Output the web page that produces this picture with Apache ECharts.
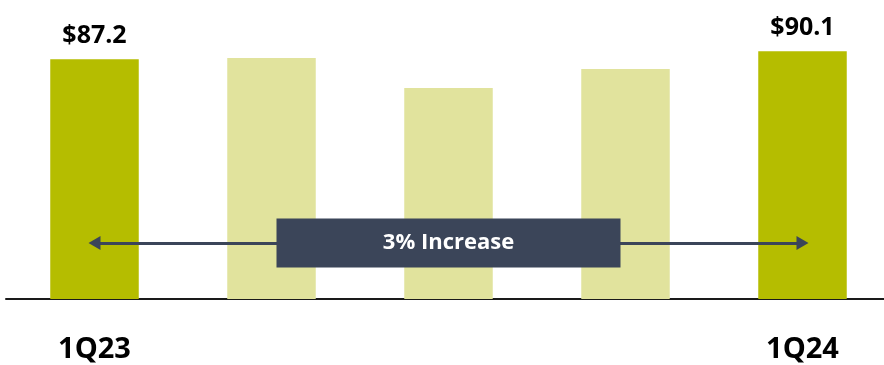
<!DOCTYPE html>
<html>
<head>
<meta charset="utf-8">
<script src="https://cdn.jsdelivr.net/npm/echarts@6/dist/echarts.min.js"></script>
<style>html,body{margin:0;padding:0;background:#fff;}#c{width:884px;height:365px;}</style>
</head>
<body>
<div id="c"></div>
<script>
const categories = ['1Q23', '2Q23', '3Q23', '4Q23', '1Q24'];
const values = [87.2, 87.6, 76.7, 83.6, 90.1];
const shownLabels = [true, false, false, false, true];
const annotationText = '3% Increase';
const arrowLevel = 20.4;

const DARK = '#B5BD00', LIGHT = '#E1E39D', NAVY = '#3B4559';
const FONT = '"Open Sans", "Noto Sans", sans-serif';

const chart = echarts.init(document.getElementById('c'), null, {renderer: 'canvas'});
chart.setOption({
  animation: false,
  grid: {left: 6, width: 885, top: 24, bottom: 66, containLabel: false, outerBoundsMode: 'none'},
  xAxis: {
    type: 'category',
    data: categories,
    axisLine: {show: true, lineStyle: {color: '#1a1a1a', width: 2}},
    axisTick: {show: false},
    axisLabel: {
      interval: (i) => shownLabels[i],
      margin: 36,
      color: '#000',
      fontFamily: FONT,
      fontWeight: 'bold',
      fontSize: 29
    }
  },
  yAxis: {type: 'value', min: 0, max: 100, show: false, splitLine: {show: false}},
  series: [
    {
      type: 'bar',
      barWidth: '50%',
      z: 2,
      data: values.map((v, i) => ({
        value: v,
        itemStyle: {color: shownLabels[i] ? DARK : LIGHT},
        label: {
          show: shownLabels[i],
          position: 'top',
          distance: 11,
          formatter: (p) => '$' + p.value.toFixed(1),
          color: '#000',
          fontFamily: FONT,
          fontWeight: 'bold',
          fontSize: 25
        }
      })),
      markLine: {
        silent: true,
        symbol: ['triangle', 'triangle'],
        symbolSize: [14, 12],
        lineStyle: {color: NAVY, width: 3, type: 'solid'},
        label: {show: false},
        data: [[
          {coord: [categories[0], arrowLevel]},
          {coord: [categories[categories.length - 1], arrowLevel]}
        ]]
      }
    },
    {
      type: 'scatter',
      z: 5,
      data: [],
      markPoint: {
        silent: true,
        symbol: 'rect',
        symbolSize: [344, 49],
        itemStyle: {color: NAVY},
        label: {
          show: true,
          position: 'inside',
          formatter: annotationText,
          color: '#fff',
          fontFamily: FONT,
          fontWeight: 'bold',
          fontSize: 22
        },
        data: [{coord: [categories[2], arrowLevel]}]
      }
    }
  ]
});
</script>
</body>
</html>
